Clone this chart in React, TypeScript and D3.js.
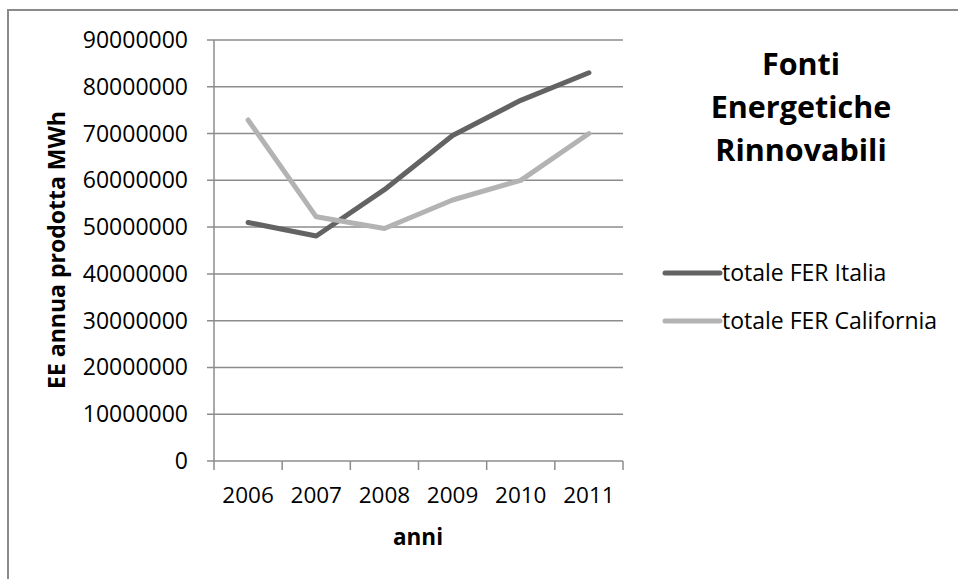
import React from "react";
import * as d3 from "d3";

const years = ["2006", "2007", "2008", "2009", "2010", "2011"];
const italia = [51000000, 48100000, 58000000, 69600000, 77100000, 83000000];
const california = [72900000, 52200000, 49700000, 55800000, 60000000, 70000000];
const yTicks = [0, 10000000, 20000000, 30000000, 40000000, 50000000, 60000000, 70000000, 80000000, 90000000];
const seriesNames = ["totale FER Italia", "totale FER California"];
const titleLines = ["Fonti", "Energetiche", "Rinnovabili"];

const W = 958;
const H = 579;
const FONT = "'Open Sans', Lato, sans-serif";

export default function App() {
  const x = d3.scaleBand().domain(years).range([214, 623]);
  const y = d3.scaleLinear().domain([0, 90000000]).range([461, 40]);
  const line = d3
    .line<number>()
    .x((_, i) => (x(years[i]) as number) + x.bandwidth() / 2)
    .y((d) => y(d));
  const series = [
    { name: seriesNames[0], values: italia, color: "#636363" },
    { name: seriesNames[1], values: california, color: "#b3b3b3" },
  ];
  const boundaries = [...years.map((c) => x(c) as number), x.range()[1]];

  return (
    <svg
      width={W}
      height={H}
      style={{ position: "absolute", left: 0, top: 0, background: "#fff" }}
      fontFamily={FONT}
    >
      {/* chart frame */}
      <path d={`M8,${H + 2} V10 H${W + 2}`} fill="none" stroke="#8a8a8a" strokeWidth={2} />

      {/* gridlines and y ticks */}
      {yTicks.map((t) => (
        <g key={t}>
          <line x1={207} x2={623} y1={y(t)} y2={y(t)} stroke="#8c8c8c" strokeWidth={1.5} />
          <text x={188} y={y(t)} dy="0.35em" textAnchor="end" fontSize={23} fill="#000">
            {t}
          </text>
        </g>
      ))}
      {/* y axis */}
      <line x1={214} x2={214} y1={y(90000000)} y2={y(0)} stroke="#8c8c8c" strokeWidth={1.5} />
      {/* x ticks */}
      {boundaries.map((b, i) => (
        <line key={i} x1={b} x2={b} y1={y(0)} y2={y(0) + 9} stroke="#8c8c8c" strokeWidth={1.5} />
      ))}
      {years.map((c) => (
        <text
          key={c}
          x={(x(c) as number) + x.bandwidth() / 2}
          y={495}
          dy="0.35em"
          textAnchor="middle"
          fontSize={22.5}
          fill="#000"
        >
          {c}
        </text>
      ))}
      <text x={418} y={537} dy="0.35em" textAnchor="middle" fontSize={22.5} fontWeight="bold">
        anni
      </text>
      <text
        transform="translate(57,250) rotate(-90)"
        dy="0.35em"
        textAnchor="middle"
        fontSize={23}
        fontWeight="bold"
      >
        EE annua prodotta MWh
      </text>

      {/* series lines */}
      {series.map((s) => (
        <path
          key={s.name}
          d={line(s.values) as string}
          fill="none"
          stroke={s.color}
          strokeWidth={5}
          strokeLinejoin="round"
          strokeLinecap="round"
        />
      ))}

      {/* title */}
      {titleLines.map((t, i) => (
        <text
          key={t}
          x={801}
          y={64 + i * 43}
          dy="0.35em"
          textAnchor="middle"
          fontSize={30.5}
          fontWeight="bold"
        >
          {t}
        </text>
      ))}

      {/* legend */}
      {series.map((s, i) => (
        <g key={s.name} transform={`translate(0,${273 + i * 48})`}>
          <line x1={665} x2={720} y1={0} y2={0} stroke={s.color} strokeWidth={5} strokeLinecap="round" />
          <text x={722} y={0} dy="0.35em" fontSize={23} fill="#000">
            {s.name}
          </text>
        </g>
      ))}
    </svg>
  );
}
